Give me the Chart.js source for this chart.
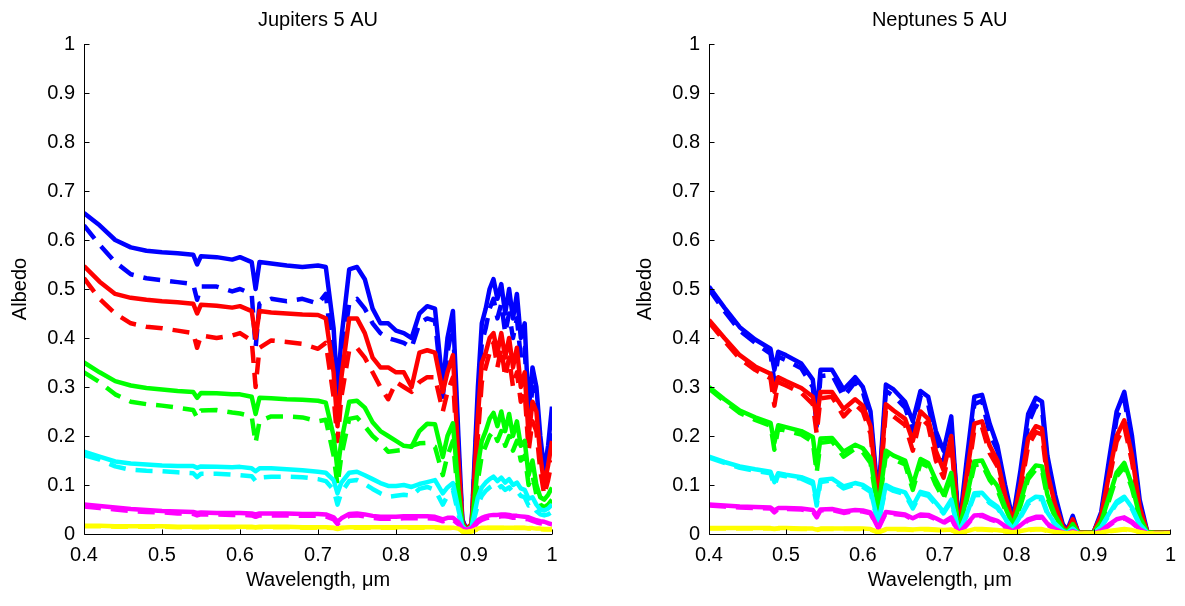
<!DOCTYPE html>
<html>
<head>
<meta charset="utf-8">
<script src="https://cdn.jsdelivr.net/npm/chart.js@4.4.0/dist/chart.umd.min.js"></script>
<style>
  html, body { margin: 0; padding: 0; background: #fff; }
  #wrap { position: relative; width: 1185px; height: 606px; overflow: hidden; }
  canvas { position: absolute; top: 0; }
</style>
</head>
<body>
<div id="wrap">
  <canvas id="jupChart" width="592" height="606" style="left:0px"></canvas>
  <canvas id="nepChart" width="560" height="606" style="left:625px"></canvas>
</div>
<script>
// ---- axis ticks ----
const xTicks = [0.4, 0.5, 0.6, 0.7, 0.8, 0.9, 1];
const yTicks = [0, 0.1, 0.2, 0.3, 0.4, 0.5, 0.6, 0.7, 0.8, 0.9, 1];

// ---- Jupiters 5 AU (solid / dashed per colour) ----
const jupX = [0.40,0.42,0.44,0.46,0.48, 0.50,0.52,0.54,0.545,0.55, 0.57,0.59,0.60,0.615,0.62, 0.625,0.64,0.66,0.68,0.70, 0.71,0.72,0.725,0.73,0.74, 0.75,0.76,0.77,0.78,0.79, 0.80,0.81,0.82,0.83,
  0.84,0.85,0.86,0.866,0.873, 0.88,0.885,0.89,0.897,0.905, 0.91,0.915,0.92,0.925,0.93, 0.935,0.94,0.945,0.95,0.955, 0.96,0.965,0.97,0.975,0.98, 0.985,0.99,0.995,1.00];
const jupBlue = [0.655,0.630,0.600,0.585,0.578, 0.575,0.573,0.570,0.550,0.567, 0.565,0.560,0.565,0.555,0.500, 0.555,0.552,0.548,0.545,0.548, 0.545,0.420,0.290,0.400,0.540, 0.545,0.520,0.460,0.430,0.430, 0.415,0.410,0.400,0.450,
  0.465,0.460,0.300,0.400,0.455, 0.200,0.030,0.010,0.020,0.300, 0.430,0.460,0.500,0.520,0.480, 0.510,0.450,0.500,0.440,0.490, 0.400,0.430,0.250,0.340,0.300, 0.200,0.130,0.180,0.260];
const jupBlueDash = [0.630,0.590,0.555,0.530,0.522, 0.518,0.514,0.510,0.478,0.505, 0.505,0.495,0.500,0.490,0.380, 0.470,0.480,0.475,0.480,0.470, 0.490,0.350,0.250,0.360,0.470, 0.480,0.460,0.430,0.410,0.400, 0.395,0.390,0.380,0.430,
  0.440,0.435,0.280,0.370,0.430, 0.170,0.028,0.010,0.020,0.270, 0.390,0.420,0.460,0.480,0.440, 0.470,0.410,0.450,0.400,0.440, 0.360,0.380,0.220,0.300,0.270, 0.180,0.110,0.150,0.220];
const jupRed = [0.547,0.515,0.490,0.482,0.478, 0.475,0.473,0.470,0.450,0.468, 0.466,0.462,0.465,0.455,0.400, 0.455,0.452,0.450,0.448,0.447, 0.440,0.330,0.220,0.320,0.440, 0.440,0.410,0.360,0.340,0.340, 0.330,0.330,0.300,0.370,
  0.375,0.370,0.290,0.330,0.365, 0.150,0.025,0.010,0.020,0.240, 0.350,0.370,0.400,0.410,0.370, 0.410,0.360,0.400,0.340,0.380, 0.300,0.330,0.200,0.270,0.250, 0.160,0.100,0.140,0.190];
const jupRedDash = [0.522,0.480,0.450,0.430,0.423, 0.420,0.415,0.410,0.380,0.405, 0.400,0.405,0.410,0.395,0.300, 0.380,0.395,0.392,0.388,0.378, 0.390,0.280,0.190,0.280,0.375, 0.380,0.360,0.330,0.300,0.275, 0.310,0.300,0.290,0.310,
  0.320,0.320,0.250,0.290,0.320, 0.120,0.022,0.010,0.018,0.200, 0.310,0.340,0.370,0.390,0.340, 0.380,0.320,0.360,0.300,0.330, 0.270,0.290,0.170,0.230,0.210, 0.130,0.080,0.110,0.150];
const jupGreen = [0.350,0.330,0.312,0.303,0.298, 0.295,0.292,0.290,0.278,0.288, 0.287,0.285,0.285,0.280,0.245, 0.278,0.277,0.275,0.274,0.272, 0.268,0.200,0.130,0.190,0.270, 0.272,0.258,0.228,0.210,0.200, 0.190,0.180,0.178,0.210,
  0.225,0.224,0.157,0.200,0.226, 0.090,0.020,0.008,0.015,0.140, 0.190,0.210,0.235,0.247,0.220, 0.250,0.210,0.245,0.200,0.230, 0.180,0.190,0.120,0.150,0.100, 0.075,0.070,0.080,0.095];
const jupGreenDash = [0.330,0.310,0.285,0.270,0.265, 0.262,0.258,0.253,0.237,0.252, 0.253,0.248,0.246,0.240,0.186, 0.230,0.240,0.240,0.238,0.230, 0.233,0.160,0.100,0.160,0.235, 0.238,0.220,0.200,0.186,0.168, 0.170,0.172,0.180,0.185,
  0.186,0.178,0.120,0.160,0.190, 0.070,0.018,0.007,0.013,0.110, 0.160,0.180,0.200,0.210,0.190, 0.210,0.180,0.200,0.170,0.190, 0.150,0.160,0.100,0.120,0.080, 0.060,0.055,0.060,0.070];
const jupCyan = [0.168,0.158,0.148,0.144,0.142, 0.140,0.139,0.139,0.135,0.138, 0.137,0.136,0.137,0.134,0.128, 0.134,0.134,0.132,0.130,0.127, 0.125,0.110,0.083,0.105,0.125, 0.127,0.120,0.112,0.104,0.098, 0.098,0.100,0.096,0.102,
  0.106,0.110,0.083,0.095,0.104, 0.050,0.016,0.008,0.014,0.075, 0.095,0.105,0.112,0.117,0.108, 0.115,0.105,0.112,0.100,0.105, 0.093,0.090,0.072,0.075,0.060, 0.050,0.048,0.052,0.060];
const jupCyanDash = [0.161,0.152,0.138,0.131,0.129, 0.128,0.126,0.124,0.116,0.123, 0.123,0.121,0.120,0.118,0.108, 0.115,0.117,0.117,0.116,0.112, 0.108,0.090,0.060,0.085,0.108, 0.110,0.102,0.092,0.083,0.076, 0.078,0.080,0.078,0.092,
  0.096,0.090,0.060,0.078,0.090, 0.040,0.014,0.007,0.012,0.060, 0.078,0.088,0.095,0.100,0.092, 0.098,0.090,0.095,0.085,0.088, 0.078,0.075,0.058,0.060,0.047, 0.040,0.038,0.040,0.045];
const jupMagenta = [0.060,0.057,0.054,0.051,0.049, 0.047,0.046,0.045,0.043,0.044, 0.043,0.043,0.043,0.042,0.040, 0.042,0.042,0.042,0.041,0.041, 0.040,0.034,0.025,0.032,0.041, 0.042,0.040,0.037,0.035,0.035, 0.035,0.036,0.036,0.036,
  0.036,0.035,0.030,0.033,0.033, 0.024,0.012,0.008,0.012,0.028, 0.033,0.036,0.038,0.039,0.039, 0.040,0.040,0.039,0.037,0.037, 0.036,0.035,0.034,0.031,0.028, 0.026,0.025,0.022,0.020];
const jupMagentaDash = [0.056,0.053,0.050,0.047,0.045, 0.044,0.042,0.041,0.038,0.040, 0.040,0.039,0.039,0.038,0.035, 0.038,0.038,0.038,0.037,0.037, 0.036,0.030,0.020,0.028,0.037, 0.038,0.036,0.033,0.031,0.031, 0.031,0.032,0.032,0.032,
  0.032,0.031,0.026,0.029,0.029, 0.020,0.009,0.006,0.009,0.024, 0.029,0.032,0.034,0.035,0.035, 0.036,0.036,0.035,0.033,0.033, 0.032,0.031,0.030,0.027,0.024, 0.022,0.021,0.018,0.017];
const jupYellow = [0.017,0.017,0.016,0.016,0.016, 0.016,0.015,0.015,0.015,0.015, 0.015,0.015,0.015,0.015,0.014, 0.015,0.015,0.015,0.014,0.014, 0.014,0.013,0.011,0.013,0.014, 0.014,0.014,0.014,0.014,0.014, 0.014,0.014,0.014,0.014,
  0.014,0.014,0.013,0.013,0.013, 0.011,0.006,0.004,0.006,0.011, 0.013,0.013,0.013,0.013,0.013, 0.013,0.013,0.013,0.013,0.013, 0.013,0.013,0.012,0.012,0.011, 0.011,0.010,0.010,0.010];
const jupYellowDash = [0.016,0.016,0.015,0.015,0.015, 0.015,0.014,0.014,0.014,0.014, 0.014,0.014,0.014,0.014,0.013, 0.014,0.014,0.014,0.013,0.013, 0.013,0.012,0.010,0.012,0.013, 0.013,0.013,0.013,0.013,0.013, 0.013,0.013,0.013,0.013,
  0.013,0.013,0.012,0.012,0.012, 0.010,0.005,0.003,0.005,0.010, 0.012,0.012,0.012,0.012,0.012, 0.012,0.012,0.012,0.012,0.012, 0.012,0.012,0.011,0.011,0.010, 0.010,0.009,0.009,0.009];

// ---- Neptunes 5 AU ----
const nepX = [0.40,0.42,0.44,0.46,0.48, 0.485,0.49,0.50,0.52,0.535, 0.54,0.545,0.56,0.575,0.59, 0.60,0.61,0.62,0.63,0.64, 0.655,0.665,0.675,0.685,0.695, 0.705,0.715,0.725,0.735,0.745, 0.755,0.765,0.775,0.785,0.795, 0.805,0.815,0.825,0.833,0.84, 0.85,0.86,0.866,0.873,0.88, 0.90,0.91,0.92,0.93,0.94, 0.95,0.96,0.97,0.98,1.00];
const nepBlue = [0.505,0.462,0.422,0.397,0.378, 0.335,0.372,0.365,0.348,0.315, 0.245,0.335,0.335,0.295,0.320, 0.300,0.250,0.070,0.305,0.295, 0.270,0.230,0.292,0.280,0.210, 0.170,0.240,0.010,0.150,0.280, 0.284,0.225,0.180,0.100,0.030, 0.130,0.245,0.278,0.270,0.160, 0.080,0.020,0.008,0.037,0.003, 0.003,0.045,0.150,0.250,0.290, 0.200,0.070,0.004,0.003,0.003];
const nepBlueDash = [0.500,0.455,0.415,0.390,0.368, 0.310,0.362,0.355,0.338,0.300, 0.220,0.322,0.325,0.280,0.310, 0.290,0.235,0.060,0.292,0.282, 0.258,0.210,0.280,0.265,0.190, 0.150,0.225,0.008,0.130,0.265, 0.272,0.205,0.170,0.085,0.025, 0.115,0.225,0.262,0.255,0.145, 0.070,0.017,0.007,0.032,0.003, 0.003,0.040,0.135,0.235,0.275, 0.185,0.060,0.004,0.003,0.003];
const nepRed = [0.437,0.400,0.365,0.342,0.327, 0.290,0.320,0.312,0.298,0.280, 0.235,0.290,0.290,0.255,0.275, 0.262,0.220,0.060,0.265,0.252, 0.235,0.190,0.250,0.235,0.170, 0.130,0.200,0.006,0.120,0.225, 0.230,0.180,0.150,0.080,0.025, 0.100,0.195,0.220,0.215,0.125, 0.060,0.015,0.006,0.030,0.003, 0.003,0.038,0.120,0.200,0.232, 0.160,0.055,0.004,0.003,0.003];
const nepRedDash = [0.432,0.394,0.358,0.335,0.318, 0.262,0.310,0.303,0.288,0.265, 0.205,0.277,0.280,0.240,0.265, 0.250,0.205,0.050,0.252,0.240, 0.222,0.170,0.238,0.222,0.150, 0.115,0.188,0.005,0.105,0.212, 0.218,0.165,0.138,0.068,0.020, 0.088,0.180,0.208,0.203,0.112, 0.052,0.013,0.005,0.027,0.003, 0.003,0.034,0.108,0.188,0.220, 0.148,0.048,0.004,0.003,0.003];
const nepGreen = [0.300,0.275,0.252,0.238,0.227, 0.186,0.222,0.218,0.210,0.198, 0.140,0.195,0.196,0.168,0.182, 0.175,0.155,0.050,0.170,0.160, 0.150,0.100,0.153,0.145,0.110, 0.080,0.125,0.004,0.075,0.148, 0.150,0.118,0.098,0.055,0.018, 0.065,0.120,0.140,0.138,0.080, 0.038,0.010,0.004,0.020,0.002, 0.002,0.025,0.075,0.125,0.145, 0.100,0.035,0.003,0.002,0.002];
const nepGreenDash = [0.297,0.271,0.247,0.233,0.221, 0.172,0.215,0.211,0.203,0.188, 0.125,0.186,0.189,0.158,0.174, 0.167,0.145,0.045,0.162,0.152, 0.142,0.090,0.145,0.137,0.100, 0.072,0.118,0.003,0.068,0.140, 0.143,0.110,0.090,0.050,0.015, 0.058,0.112,0.132,0.130,0.074, 0.034,0.009,0.004,0.018,0.002, 0.002,0.022,0.068,0.117,0.137, 0.093,0.031,0.003,0.002,0.002];
const nepCyan = [0.158,0.147,0.138,0.132,0.127, 0.106,0.124,0.121,0.116,0.107, 0.065,0.110,0.113,0.097,0.104, 0.100,0.090,0.022,0.100,0.092, 0.085,0.057,0.086,0.082,0.064, 0.045,0.070,0.002,0.040,0.083, 0.084,0.067,0.056,0.032,0.010, 0.037,0.066,0.076,0.075,0.044, 0.021,0.006,0.002,0.011,0.001, 0.001,0.014,0.041,0.066,0.076, 0.054,0.020,0.002,0.001,0.001];
const nepCyanDash = [0.156,0.145,0.135,0.129,0.124, 0.098,0.121,0.118,0.113,0.102, 0.058,0.106,0.110,0.093,0.101, 0.096,0.086,0.020,0.096,0.088, 0.081,0.052,0.082,0.078,0.060, 0.042,0.067,0.002,0.037,0.079, 0.080,0.063,0.053,0.030,0.009, 0.034,0.062,0.072,0.071,0.041, 0.019,0.005,0.002,0.010,0.001, 0.001,0.013,0.038,0.062,0.072, 0.051,0.018,0.002,0.001,0.001];
const nepMagenta = [0.060,0.058,0.056,0.055,0.054, 0.048,0.053,0.053,0.052,0.049, 0.038,0.050,0.051,0.046,0.049, 0.048,0.044,0.012,0.045,0.043, 0.040,0.032,0.040,0.039,0.032, 0.024,0.034,0.001,0.020,0.038, 0.039,0.032,0.027,0.016,0.005, 0.018,0.030,0.035,0.035,0.021, 0.010,0.003,0.001,0.006,0.001, 0.001,0.007,0.019,0.030,0.034, 0.025,0.010,0.001,0.001,0.001];
const nepMagentaDash = [0.058,0.056,0.054,0.053,0.052, 0.044,0.051,0.051,0.050,0.046, 0.034,0.048,0.049,0.043,0.047, 0.046,0.042,0.010,0.043,0.041, 0.038,0.029,0.038,0.037,0.030, 0.022,0.032,0.001,0.018,0.036, 0.037,0.030,0.025,0.014,0.004, 0.016,0.028,0.033,0.033,0.019, 0.009,0.003,0.001,0.005,0.001, 0.001,0.006,0.017,0.028,0.032, 0.023,0.009,0.001,0.001,0.001];
const nepYellow = [0.012,0.012,0.012,0.012,0.012, 0.011,0.012,0.012,0.011,0.011, 0.009,0.011,0.011,0.011,0.011, 0.011,0.010,0.004,0.010,0.010, 0.010,0.009,0.010,0.010,0.009, 0.008,0.009,0.001,0.006,0.010, 0.010,0.009,0.008,0.006,0.003, 0.006,0.009,0.010,0.010,0.007, 0.004,0.002,0.001,0.003,0.001, 0.001,0.003,0.006,0.008,0.010, 0.008,0.004,0.001,0.001,0.001];
const nepYellowDash = [0.011,0.011,0.011,0.011,0.011, 0.010,0.011,0.011,0.010,0.010, 0.008,0.010,0.010,0.010,0.010, 0.010,0.009,0.003,0.009,0.009, 0.009,0.008,0.009,0.009,0.008, 0.007,0.008,0.001,0.005,0.009, 0.009,0.008,0.007,0.005,0.002, 0.005,0.008,0.009,0.009,0.006, 0.003,0.002,0.001,0.002,0.001, 0.001,0.002,0.005,0.007,0.009, 0.007,0.003,0.001,0.001,0.001];

const lineColors = ['#0000ff', '#ff0000', '#00ff00', '#00ffff', '#ff00ff', '#ffff00'];

Chart.defaults.font.family = '"Liberation Sans", Arial, Helvetica, sans-serif';
Chart.defaults.font.size = 20;
Chart.defaults.color = '#000';

// MATLAB-like axes: only left/bottom lines, ticks pointing inward
const matlabAxes = {
  id: 'matlabAxes',
  afterDraw(chart) {
    const { ctx, chartArea: a, scales: { x, y } } = chart;
    ctx.save();
    ctx.strokeStyle = '#000';
    ctx.lineWidth = 1;
    ctx.beginPath();
    const left = Math.round(a.left) + 0.5;
    const bottom = Math.round(a.bottom) + 0.5;
    ctx.moveTo(left, a.top);
    ctx.lineTo(left, bottom);
    ctx.lineTo(a.right, bottom);
    x.ticks.forEach(t => {
      const px = Math.round(x.getPixelForValue(t.value)) + 0.5;
      ctx.moveTo(px, bottom);
      ctx.lineTo(px, bottom - 5);
    });
    y.ticks.forEach(t => {
      const py = Math.round(y.getPixelForValue(t.value)) + 0.5;
      ctx.moveTo(left, py);
      ctx.lineTo(left + 5, py);
    });
    ctx.stroke();
    ctx.restore();
  }
};

function buildDatasets(xs, series) {
  const sets = [];
  series.forEach((pair, c) => {
    pair.forEach((ys, k) => {
      sets.push({
        data: xs.map((x, i) => ({ x: x, y: ys[i] })),
        borderColor: lineColors[c],
        borderWidth: 4.5,
        borderDash: k === 1 ? [17, 10] : [],
        borderJoinStyle: 'round',
        pointRadius: 0,
        fill: false,
        tension: 0
      });
    });
  });
  // first plotted series ends up underneath, like MATLAB
  sets.forEach((s, i) => { s.order = sets.length - i; });
  return sets;
}

function makeChart(id, titleText, xs, series, padRight) {
  const ctx = document.getElementById(id).getContext('2d');
  return new Chart(ctx, {
    type: 'line',
    data: { datasets: buildDatasets(xs, series) },
    options: {
      responsive: false,
      animation: false,
      layout: { padding: { top: 0, left: 0, right: padRight, bottom: 0 } },
      plugins: {
        legend: { display: false },
        tooltip: { enabled: false },
        title: {
          display: true,
          text: titleText,
          fullSize: false,
          color: '#000',
          font: { size: 20, weight: 'normal' },
          padding: { top: 8, bottom: 12 }
        }
      },
      scales: {
        x: {
          type: 'linear',
          min: 0.4,
          max: 1,
          afterBuildTicks: s => { s.ticks = xTicks.map(v => ({ value: v })); },
          afterFit: s => { s.height = 72; },
          grid: { display: false, drawTicks: false },
          border: { display: false },
          ticks: { padding: 9, color: '#000', callback: v => String(+v.toFixed(1)) },
          title: { display: true, text: 'Wavelength, \u03bcm', color: '#000', padding: { top: 0, bottom: 14 } }
        },
        y: {
          type: 'linear',
          min: 0,
          max: 1,
          afterBuildTicks: s => { s.ticks = yTicks.map(v => ({ value: v })); },
          afterFit: s => { s.width = 84; },
          grid: { display: false, drawTicks: false },
          border: { display: false },
          ticks: { padding: 9, color: '#000', callback: v => String(+v.toFixed(1)) },
          title: { display: true, text: 'Albedo', color: '#000', padding: { top: 8, bottom: 0 } }
        }
      }
    },
    plugins: [matlabAxes]
  });
}

makeChart('jupChart', 'Jupiters 5 AU', jupX, [
  [jupBlue, jupBlueDash],
  [jupRed, jupRedDash],
  [jupGreen, jupGreenDash],
  [jupCyan, jupCyanDash],
  [jupMagenta, jupMagentaDash],
  [jupYellow, jupYellowDash]
], 40);

makeChart('nepChart', 'Neptunes 5 AU', nepX, [
  [nepBlue, nepBlueDash],
  [nepRed, nepRedDash],
  [nepGreen, nepGreenDash],
  [nepCyan, nepCyanDash],
  [nepMagenta, nepMagentaDash],
  [nepYellow, nepYellowDash]
], 9);
</script>
</body>
</html>
